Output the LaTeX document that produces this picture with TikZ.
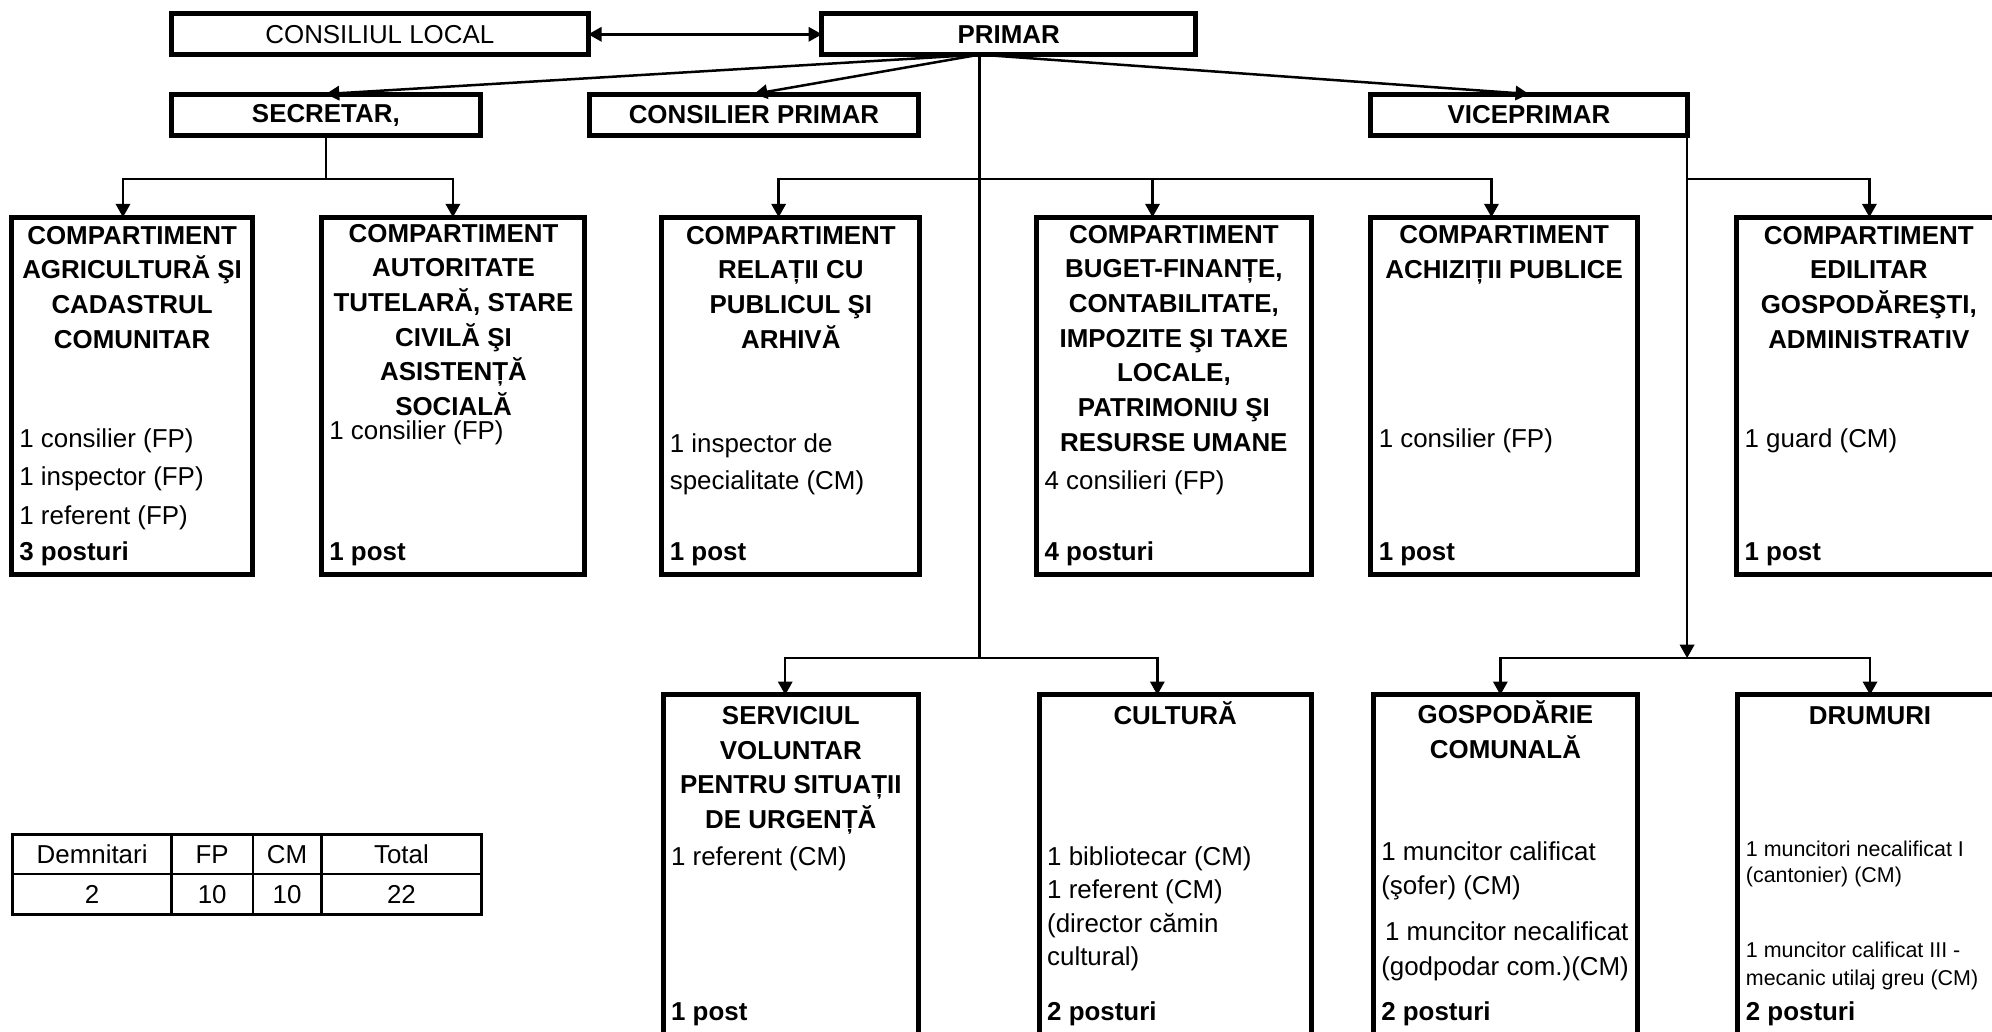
\documentclass[tikz,border=0pt]{standalone}
\usepackage{fontspec}
\setmainfont{Liberation Sans}
\usetikzlibrary{arrows.meta,fit}

\begin{document}
\begin{tikzpicture}[x=0.025cm,y=-0.025cm,
  box/.style={draw, line width=2.8pt, inner sep=0pt, outer sep=0pt},
  topbold/.style={font=\fontsize{14.5}{17}\selectfont\bfseries},
  topreg/.style={font=\fontsize{14.5}{17}\selectfont},
  hdr/.style={anchor=base, align=center, inner sep=0pt, font=\fontsize{14.5}{19.4}\selectfont\bfseries},
  bodytxt/.style={anchor=base west, align=left, inner sep=0pt, font=\fontsize{14.5}{#1}\selectfont},
  bodytxt/.default=19.5,
  smalltxt/.style={anchor=base west, align=left, inner sep=0pt, font=\fontsize{12}{#1}\selectfont},
  smalltxt/.default=15,
  posttxt/.style={anchor=base west, inner sep=0pt, font=\fontsize{14.5}{17}\selectfont\bfseries},
  cell/.style={anchor=base, inner sep=0pt, font=\fontsize{14.5}{17}\selectfont},
  wire/.style={line width=1.4pt},
  arr/.style={wire, -{Triangle[length=7.5pt,width=8pt]}},
  arrtwo/.style={wire, {Triangle[length=7.5pt,width=8pt]}-{Triangle[length=7.5pt,width=8pt]}},
  grid/.style={line width=1.4pt}]
\useasboundingbox (0,0) rectangle (1568,812);
\clip (0,0) rectangle (1568,812);

% Top of the chart
\node[box, fit={(135,11) (463,43)}, label={[topreg]center:CONSILIUL LOCAL}] (consiliu) {};
\node[box, fit={(647,11) (941,43)}, label={[topbold]center:PRIMAR}] (primar) {};
\node[box, fit={(135,74) (378,107)}, label={[topbold]center:SECRETAR,}] (secretar) {};
\node[box, fit={(464,74) (723,107)}, label={[topbold]center:CONSILIER PRIMAR}] (consilier) {};
\node[box, fit={(1079,74) (1328,107)}, label={[topbold]center:VICEPRIMAR}] (viceprimar) {};

% Compartments, first row
\node[box, fit={(9,171) (199,452)}] (agri) {};
\node[box, fit={(253,171) (460,452)}] (autoritate) {};
\node[box, fit={(521,171) (724,452)}] (relatii) {};
\node[box, fit={(816,171) (1032,452)}] (buget) {};
\node[box, fit={(1079,171) (1289,452)}] (achizitii) {};
\node[box, fit={(1367,171) (1576,452)}] (edilitar) {};

% Compartments, second row
\node[box, fit={(522,547) (723,840)}] (serviciu) {};
\node[box, fit={(818,547) (1032,840)}] (cultura) {};
\node[box, fit={(1081,547) (1289,840)}] (gospodarie) {};
\node[box, fit={(1368,547) (1576,840)}] (drumuri) {};

% Headings (placed at the baseline of the last line)
\node[hdr] (agrih) at (104,274) {COMPARTIMENT\\AGRICULTURĂ ŞI\\CADASTRUL\\COMUNITAR};
\node[hdr] (autoritateh) at (357,327) {COMPARTIMENT\\AUTORITATE\\TUTELARĂ, STARE\\CIVILĂ ŞI\\ASISTENȚĂ\\SOCIALĂ};
\node[hdr] (relatiih) at (622.5,274) {COMPARTIMENT\\RELAȚII CU\\PUBLICUL ŞI\\ARHIVĂ};
\node[hdr] (bugeth) at (924,355) {COMPARTIMENT\\BUGET-FINANȚE,\\CONTABILITATE,\\IMPOZITE ŞI TAXE\\LOCALE,\\PATRIMONIU ŞI\\RESURSE UMANE};
\node[hdr] (achizitiih) at (1184,219) {COMPARTIMENT\\ACHIZIȚII PUBLICE};
\node[hdr] (edilitarh) at (1471,274) {COMPARTIMENT\\EDILITAR\\GOSPODĂREŞTI,\\ADMINISTRATIV};
\node[hdr] (serviciuh) at (622.5,652) {SERVICIUL\\VOLUNTAR\\PENTRU SITUAȚII\\DE URGENȚĂ};
\node[hdr] (culturah) at (925,570) {CULTURĂ};
\node[hdr] (gospodarieh) at (1185,597) {GOSPODĂRIE\\COMUNALĂ};
\node[hdr] (drumurih) at (1472,570) {DRUMURI};

% Staff
\node[bodytxt=21.7] (agrib) at (15,413) {1 consilier (FP)\\1 inspector (FP)\\1 referent (FP)};
\node[bodytxt] (autoritateb) at (259,346) {1 consilier (FP)};
\node[bodytxt=20.6] (relatiib) at (527,385) {1 inspector de\\specialitate (CM)};
\node[bodytxt] (bugetb) at (822,385) {4 consilieri (FP)};
\node[bodytxt] (achizitiib) at (1085,352) {1 consilier (FP)};
\node[bodytxt] (edilitarb) at (1373,352) {1 guard (CM)};
\node[bodytxt] (serviciub) at (528,681) {1 referent (CM)};
\node[bodytxt=18.7] (culturab) at (824,760) {1 bibliotecar (CM)\\1 referent (CM)\\(director cămin\\cultural)};
\node[bodytxt=18.9] (gospodarieb) at (1087,704) {1 muncitor calificat\\(şofer) (CM)};
\node[bodytxt] (gospodariec) at (1090,740) {1 muncitor necalificat};
\node[bodytxt] (gospodaried) at (1087,768) {(godpodar com.)(CM)};
\node[smalltxt=14.9] (drumurib) at (1374,695) {1 muncitori necalificat I\\(cantonier) (CM)};
\node[smalltxt=15.6] (drumuric) at (1374,776) {1 muncitor calificat III -\\mecanic utilaj greu (CM)};

% Posts
\node[posttxt] (agrip) at (15,441) {3 posturi};
\node[posttxt] (autoritatep) at (259,441) {1 post};
\node[posttxt] (relatiip) at (527,441) {1 post};
\node[posttxt] (bugetp) at (822,441) {4 posturi};
\node[posttxt] (achizitiip) at (1085,441) {1 post};
\node[posttxt] (edilitarp) at (1373,441) {1 post};
\node[posttxt] (serviciup) at (528,803) {1 post};
\node[posttxt] (culturap) at (824,803) {2 posturi};
\node[posttxt] (gospodariep) at (1087,803) {2 posturi};
\node[posttxt] (drumurip) at (1374,803) {2 posturi};

% Links from the mayor
\coordinate (ptop) at (771,43);
\coordinate (pmid) at (771,141);
\coordinate (pbot) at (771,518);
\draw[arrtwo] (consiliu) -- (primar);
\draw[arr] (ptop) -- (secretar.north);
\draw[arr] (ptop) -- (consilier.north);
\draw[arr] (ptop) -- (viceprimar.north);
\draw[wire] (ptop) -- (pbot);
\draw[arr] (pmid) -| ([xshift=-0.24cm]relatii.north);
\draw[arr] (pmid) -| ([xshift=-0.42cm]buget.north);
\draw[arr] (pmid) -| ([xshift=-0.25cm]achizitii.north);
\draw[arr] (pbot) -| ([xshift=-0.11cm]serviciu.north);
\draw[arr] (pbot) -| ([xshift=-0.35cm]cultura.north);

% Links from the secretary
\coordinate (smid) at (secretar.south |- pmid);
\draw[wire] (secretar.south) -- (smid);
\draw[arr] (smid) -| ([xshift=-0.18cm]agri.north);
\draw[arr] (smid) -| (autoritate.north);

% Links from the deputy mayor
\coordinate (vmid) at (viceprimar.south east |- pmid);
\coordinate (vbot) at (viceprimar.south east |- pbot);
\draw[arr] (viceprimar.south east) -- (vbot);
\draw[arr] (vmid) -| (edilitar.north);
\draw[arr] (vbot) -| ([xshift=-0.1cm]gospodarie.north);
\draw[arr] (vbot) -| (drumuri.north);

% Totals
\draw[grid] (10,657) rectangle (379,720);
\draw[grid] (10,688) -- (379,688);
\foreach \x in {135,199,253}
  \draw[grid] (\x,657) -- (\x,720);
\node[cell] (demh) at (72.5,680) {Demnitari};
\node[cell] (fph) at (167,680) {FP};
\node[cell] (cmh) at (226,680) {CM};
\node[cell] (toth) at (316,680) {Total};
\node[cell] (demv) at (72.5,711) {2};
\node[cell] (fpv) at (167,711) {10};
\node[cell] (cmv) at (226,711) {10};
\node[cell] (totv) at (316,711) {22};
\end{tikzpicture}
\end{document}
